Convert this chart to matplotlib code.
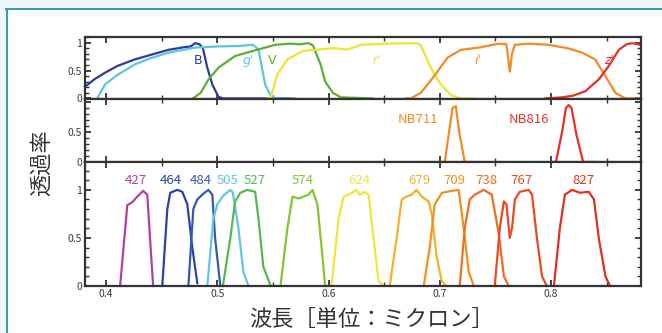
import matplotlib
matplotlib.use('Agg')
import matplotlib.pyplot as plt
from matplotlib.lines import Line2D
from matplotlib.patches import Rectangle
from matplotlib.ticker import MultipleLocator

plt.rcParams['font.family'] = ['Noto Sans CJK JP', 'DejaVu Sans']

AXC = '#333333'
TEAL = '#3a9fa0'
PALE = '#eef8fa'

# ── broad-band filters (top panel) ──
B_wl = [0.381, 0.39, 0.399, 0.41, 0.426, 0.44, 0.456, 0.471, 0.476, 0.480, 0.484, 0.487, 0.491, 0.4955, 0.501, 0.505, 0.566]
B_tr = [0.21, 0.35, 0.46, 0.58, 0.70, 0.78, 0.87, 0.92, 0.93, 0.99, 0.97, 0.90, 0.55, 0.25, 0.03, 0.0, 0.0]
g_wl = [0.392, 0.399, 0.41, 0.426, 0.44, 0.456, 0.48, 0.50, 0.52, 0.532, 0.537, 0.543, 0.548, 0.552, 0.57]
g_tr = [0.0, 0.25, 0.42, 0.61, 0.72, 0.82, 0.91, 0.93, 0.94, 0.96, 0.88, 0.25, 0.05, 0.0, 0.0]
V_wl = [0.478, 0.485, 0.492, 0.501, 0.516, 0.532, 0.552, 0.565, 0.575, 0.582, 0.586, 0.593, 0.597, 0.604, 0.611, 0.64]
V_tr = [0.0, 0.1, 0.34, 0.55, 0.76, 0.85, 0.96, 0.98, 0.97, 0.99, 0.95, 0.6, 0.3, 0.1, 0.02, 0.0]
r_wl = [0.545, 0.548, 0.554, 0.563, 0.577, 0.593, 0.605, 0.617, 0.629, 0.65, 0.68, 0.683, 0.692, 0.701, 0.71, 0.719, 0.73]
r_tr = [0.0, 0.02, 0.43, 0.70, 0.85, 0.88, 0.90, 0.875, 0.96, 0.98, 0.99, 0.95, 0.55, 0.25, 0.06, 0.0, 0.0]
i_wl = [0.67, 0.674, 0.683, 0.695, 0.707, 0.719, 0.735, 0.753, 0.760, 0.763, 0.765, 0.7675, 0.78, 0.798, 0.815, 0.828, 0.8396, 0.849, 0.858, 0.867, 0.881]
i_tr = [0.0, 0.0, 0.1, 0.40, 0.73, 0.87, 0.91, 0.98, 0.97, 0.48, 0.8, 0.96, 0.98, 0.96, 0.9, 0.82, 0.7, 0.4, 0.1, 0.0, 0.0]
z_wl = [0.795, 0.81, 0.82, 0.831, 0.843, 0.852, 0.861, 0.868, 0.873, 0.880]
z_tr = [0.0, 0.02, 0.05, 0.13, 0.34, 0.58, 0.87, 0.97, 0.99, 0.96]

broad_names = ['B', "g'", 'V', "r'", "i'", "z'"]
broad_colors = ['#2b3d9a', '#5ec6dc', '#5cb030', '#ebe634', '#f28a25', '#e4302a']
broad_label_x = [0.483, 0.5275, 0.5495, 0.6435, 0.7345, 0.8525]

# ── narrow-band filters (middle panel) ──
nb711_wl = [0.700, 0.7045, 0.708, 0.7115, 0.7145, 0.7175, 0.7225, 0.73]
nb711_tr = [0.0, 0.0, 0.45, 0.9, 0.93, 0.5, 0.0, 0.0]
nb816_wl = [0.80, 0.8045, 0.810, 0.8135, 0.816, 0.8185, 0.823, 0.829, 0.84]
nb816_tr = [0.0, 0.0, 0.5, 0.9, 0.95, 0.9, 0.45, 0.0, 0.0]

# ── intermediate-band filters (bottom panel) ──
ib427_wl = [0.4126, 0.419, 0.4234, 0.428, 0.4333, 0.437, 0.440, 0.4423]
ib427_tr = [0.0, 0.84, 0.87, 0.93, 0.99, 0.95, 0.4, 0.0]
ib464_wl = [0.4505, 0.455, 0.4577, 0.464, 0.4685, 0.473, 0.4775, 0.482]
ib464_tr = [0.0, 0.8, 0.97, 1.0, 0.98, 0.85, 0.4, 0.03]
ib484_wl = [0.474, 0.4784, 0.482, 0.4874, 0.492, 0.4955, 0.498, 0.5027]
ib484_tr = [0.0, 0.8, 0.9, 0.96, 1.0, 0.95, 0.5, 0.0]
ib505_wl = [0.491, 0.4964, 0.500, 0.5054, 0.5117, 0.514, 0.519, 0.5234, 0.528]
ib505_tr = [0.0, 0.7, 0.85, 0.94, 1.0, 0.97, 0.6, 0.15, 0.0]
ib527_wl = [0.505, 0.5117, 0.516, 0.5207, 0.527, 0.534, 0.537, 0.5414, 0.548]
ib527_tr = [0.0, 0.5, 0.88, 0.97, 1.0, 0.98, 0.7, 0.2, 0.0]
ib574_wl = [0.5568, 0.563, 0.5676, 0.573, 0.5775, 0.582, 0.5856, 0.590, 0.5946, 0.597]
ib574_tr = [0.0, 0.6, 0.93, 0.91, 0.93, 0.95, 1.0, 0.85, 0.3, 0.0]
ib624_wl = [0.6027, 0.609, 0.6135, 0.618, 0.6225, 0.625, 0.628, 0.6324, 0.636, 0.6405, 0.645, 0.650]
ib624_tr = [0.0, 0.7, 0.93, 0.95, 0.98, 1.0, 0.95, 0.98, 0.95, 0.5, 0.05, 0.0]
ib679_wl = [0.655, 0.6613, 0.6658, 0.670, 0.6748, 0.679, 0.6838, 0.690, 0.6928, 0.6973, 0.7018, 0.706]
ib679_tr = [0.0, 0.5, 0.9, 0.93, 0.95, 1.0, 0.93, 0.88, 0.75, 0.3, 0.05, 0.0]
ib709_wl = [0.6856, 0.691, 0.6955, 0.702, 0.711, 0.717, 0.7216, 0.726, 0.7306]
ib709_tr = [0.0, 0.4, 0.85, 0.97, 0.99, 1.0, 0.6, 0.15, 0.0]
ib738_wl = [0.718, 0.7225, 0.727, 0.7315, 0.7396, 0.7468, 0.753, 0.7577, 0.762]
ib738_tr = [0.0, 0.6, 0.9, 0.95, 1.0, 0.95, 0.55, 0.1, 0.0]
ib767_wl = [0.7495, 0.754, 0.7577, 0.760, 0.763, 0.765, 0.7676, 0.772, 0.780, 0.783, 0.7874, 0.792, 0.7964]
ib767_tr = [0.0, 0.6, 0.88, 0.85, 0.5, 0.6, 0.9, 0.98, 1.0, 0.95, 0.5, 0.1, 0.0]
ib827_wl = [0.8027, 0.808, 0.8126, 0.819, 0.826, 0.834, 0.8387, 0.843, 0.849, 0.8532]
ib827_tr = [0.0, 0.6, 0.95, 1.0, 0.97, 0.98, 0.9, 0.5, 0.1, 0.0]

ib_names = ['427', '464', '484', '505', '527', '574', '624', '679', '709', '738', '767', '827']
ib_colors = ['#b2409e', '#2a44a6', '#3558b6', '#62c6e0', '#56b853', '#86c530',
             '#ede63c', '#f4b126', '#f48f22', '#ee6d22', '#e84a22', '#e1301f']
ib_label_x = [0.4265, 0.458, 0.485, 0.509, 0.534, 0.577, 0.6275, 0.6815, 0.713, 0.7415, 0.7735, 0.8295]

fig = plt.figure(figsize=(6.62, 3.33), dpi=100)
fig.patch.set_facecolor('white')

# page frame
fig.patches.append(Rectangle((0, 1 - 8/333), 1, 8/333, transform=fig.transFigure, color=PALE, zorder=0))
fig.patches.append(Rectangle((0, 0), 6/662, 1 - 8/333, transform=fig.transFigure, color=PALE, zorder=0))
fig.lines.append(Line2D([6/662, 1], [1 - 8.5/333, 1 - 8.5/333], transform=fig.transFigure, color=TEAL, lw=1.5))
fig.lines.append(Line2D([6.5/662, 6.5/662], [0, 1 - 8.5/333], transform=fig.transFigure, color=TEAL, lw=1.5))

L, W = 85/662, 556/662
ax1 = fig.add_axes([L, 1 - 99/333, W, 62/333])
ax2 = fig.add_axes([L, 1 - 162/333, W, 63/333])
ax3 = fig.add_axes([L, 1 - 286/333, W, 124/333])

for ax in (ax1, ax2, ax3):
    ax.set_xlim(0.381, 0.881)
    ax.xaxis.set_major_locator(MultipleLocator(0.1))
    ax.xaxis.set_minor_locator(MultipleLocator(0.05))
    ax.yaxis.set_major_locator(MultipleLocator(0.5))
    ax.yaxis.set_minor_locator(MultipleLocator(0.1))
    ax.tick_params(which='both', direction='in', top=True, right=True, color=AXC,
                   labelsize=7.5, labelcolor='#3a3a3a', pad=2)
    ax.tick_params(which='major', length=4, width=1.3)
    ax.tick_params(which='minor', length=3, width=1.0)
    for s in ax.spines.values():
        s.set_color(AXC)
        s.set_linewidth(1.6)
    ax.set_yticklabels([])
    ax.set_xticklabels([])

# top panel
ax1.set_ylim(-0.01, 1.1)
for wl, tr, c in zip([B_wl, g_wl, V_wl, r_wl, i_wl, z_wl], [B_tr, g_tr, V_tr, r_tr, i_tr, z_tr], broad_colors):
    ax1.plot(wl, tr, color=c, lw=1.6, clip_on=False, solid_joinstyle='round')
for n, c, x in zip(broad_names, broad_colors, broad_label_x):
    ax1.text(x, 0.68, n, color=c, fontsize=9, ha='center', va='center',
             style='normal' if n in ('B', 'V') else 'italic', family=['DejaVu Sans'])
ax1.set_yticks([0, 0.5, 1])
ax1.set_yticklabels(['0', '0.5', '1'])

# middle panel
ax2.set_ylim(0, 1.05)
ax2.plot(nb711_wl, nb711_tr, color='#f28a25', lw=1.6, clip_on=False)
ax2.plot(nb816_wl, nb816_tr, color='#e4302a', lw=1.6, clip_on=False)
ax2.text(0.680, 0.71, 'NB711', color='#f28a25', fontsize=9.5, ha='center', va='center')
ax2.text(0.780, 0.71, 'NB816', color='#e4302a', fontsize=9.5, ha='center', va='center')
ax2.set_yticks([0, 0.5, 1])
ax2.set_yticklabels(['0', '0.5', ''])

# bottom panel
ax3.set_ylim(0, 1.29)
ib_wls = [ib427_wl, ib464_wl, ib484_wl, ib505_wl, ib527_wl, ib574_wl,
          ib624_wl, ib679_wl, ib709_wl, ib738_wl, ib767_wl, ib827_wl]
ib_trs = [ib427_tr, ib464_tr, ib484_tr, ib505_tr, ib527_tr, ib574_tr,
          ib624_tr, ib679_tr, ib709_tr, ib738_tr, ib767_tr, ib827_tr]
for wl, tr, c in zip(ib_wls, ib_trs, ib_colors):
    ax3.plot(wl, tr, color=c, lw=1.6, clip_on=False, solid_joinstyle='round')
for n, c, x in zip(ib_names, ib_colors, ib_label_x):
    ax3.text(x, 1.1, n, color=c, fontsize=9.5, ha='center', va='center')
ax3.set_yticks([0, 0.5, 1])
ax3.set_yticklabels(['0', '0.5', '1'])
ax3.set_xticks([0.4, 0.5, 0.6, 0.7, 0.8])
ax3.set_xticklabels(['0.4', '0.5', '0.6', '0.7', '0.8'])

fig.text(372/662, 1 - 319/333, '波長［単位：ミクロン］', fontsize=16, color='#333333',
         ha='center', va='center')
fig.text(41/662, 1 - 163/333, '透過率', fontsize=16, color='#333333',
         ha='center', va='center', rotation=90)

fig.savefig('out.png', dpi=100, facecolor='white')
